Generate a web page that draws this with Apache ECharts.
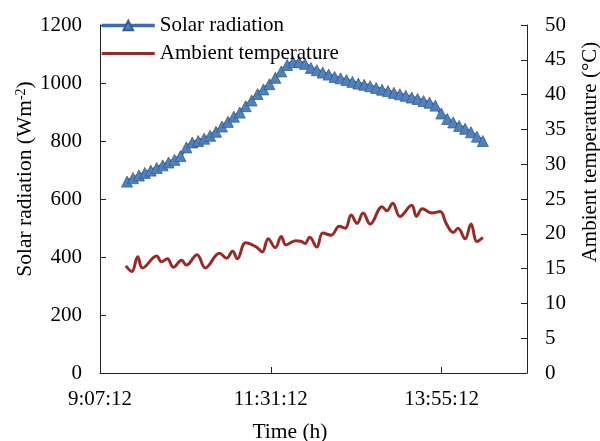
<!DOCTYPE html>
<html>
<head>
<meta charset="utf-8">
<script src="https://cdn.jsdelivr.net/npm/echarts@6/dist/echarts.min.js"></script>
<style>
html,body{margin:0;padding:0;background:#fff;}
#c{width:600px;height:441px;}
</style>
</head>
<body>
<div id="c"></div>
<script>
// ---- data ----
const solarTimes = ["9:30","9:35","9:40","9:45","9:50","9:55","10:00","10:05","10:10","10:15",
  "10:20","10:25","10:30","10:35","10:40","10:45","10:50","10:55","11:00","11:05",
  "11:10","11:15","11:20","11:25","11:30","11:35","11:40","11:45","11:50","11:55",
  "12:00","12:05","12:10","12:15","12:20","12:25","12:30","12:35","12:40","12:45",
  "12:50","12:55","13:00","13:05","13:10","13:15","13:20","13:25","13:30","13:35",
  "13:40","13:45","13:50","13:55","14:00","14:05","14:10","14:15","14:20","14:25","14:30"];
const solarValues = [660,672,681,690,698,707,716,726,735,748,
  778,795,800,808,818,832,850,866,884,898,
  920,940,962,978,996,1018,1040,1062,1072,1072,
  1066,1052,1044,1036,1029,1021,1016,1010,1004,998,
  994,989,983,977,972,966,961,956,950,945,
  938,932,922,895,876,864,852,842,830,815,800];

const tempTimes = ["9:29","9:34","9:39","9:43","9:55","9:59","10:04","10:09","10:16","10:20",
  "10:29","10:36","10:48","10:54","10:59","11:03","11:10","11:19","11:24","11:29",
  "11:35","11:40","11:44","11:52","11:57","12:00","12:04","12:10","12:15","12:22",
  "12:29","12:34","12:39","12:44","12:49","12:55","13:05","13:09","13:14","13:20",
  "13:30","13:34","13:39","13:47","13:54","13:59","14:05","14:09","14:15","14:20","14:25","14:30"];
const tempValues = [15.4,14.6,16.7,15.1,16.8,16.0,16.4,15.2,16.2,15.5,
  17.0,15.1,17.2,16.5,17.5,16.4,18.7,18.1,17.4,19.3,
  18.0,19.6,18.4,19.0,18.9,18.6,19.5,18.1,20.1,19.8,
  21.1,20.8,22.7,21.5,23.0,21.4,23.9,23.3,24.4,22.5,
  24.1,22.5,23.6,23.0,23.2,21.5,20.2,20.8,19.3,21.4,18.9,19.5];

const xTickLabels = ["9:07:12","11:31:12","13:55:12"];
const xStart = "9:07:12";

// ---- helpers ----
function toMin(s){ const p = s.split(':').map(Number); return p[0]*60 + p[1] + (p[2]||0)/60; }
const x0 = toMin(xStart);
function offs(s){ return toMin(s) - x0; }

const solarData = solarTimes.map((t,i)=>[offs(t), solarValues[i]]);
const tempData = tempTimes.map((t,i)=>[offs(t), tempValues[i]]);

const FONT = 'Liberation Serif';
const AX = '#222';

const chart = echarts.init(document.getElementById('c'));
chart.setOption({
  animation:false,
  backgroundColor:'#fff',
  textStyle:{fontFamily:FONT},
  grid:{left:100,right:73,top:25,bottom:68},
  legend:{
    orient:'vertical', left:100, top:15, itemGap:7, padding:0,
    itemWidth:53, itemHeight:12,
    textStyle:{fontFamily:FONT,fontSize:21,color:'#000'},
    data:[{name:'Solar radiation',lineStyle:{width:3.5,color:'#3A6BAE'}},
          {name:'Ambient temperature',icon:'path://M0,0H53V3.2H0Z'}]
  },
  xAxis:{
    type:'value', min:0, max:360, interval:144,
    axisLine:{show:true,lineStyle:{color:AX,width:1}},
    axisTick:{show:true,inside:true,length:6,lineStyle:{color:AX}},
    splitLine:{show:false},
    axisLabel:{fontFamily:FONT,fontSize:21,color:'#000',margin:16,showMaxLabel:false,
      formatter:function(v){ const i = Math.round(v/144); return (Math.abs(v-i*144)<1e-6 && i<xTickLabels.length) ? xTickLabels[i] : ''; }}
  },
  yAxis:[{
    type:'value', min:0, max:1200, interval:200,
    axisLine:{show:true,lineStyle:{color:AX,width:1}},
    axisTick:{show:true,inside:true,length:6,lineStyle:{color:AX}},
    splitLine:{show:false},
    axisLabel:{fontFamily:FONT,fontSize:21,color:'#000',margin:18,formatter:function(v){return String(v);}}
  },{
    type:'value', min:0, max:50, interval:5,
    axisLine:{show:true,lineStyle:{color:AX,width:1}},
    axisTick:{show:true,inside:true,length:6,lineStyle:{color:AX}},
    splitLine:{show:false},
    axisLabel:{fontFamily:FONT,fontSize:21,color:'#000',margin:18,formatter:function(v){return String(v);}}
  }],
  series:[{
    name:'Solar radiation', type:'line', yAxisIndex:0,
    data:solarData,
    symbol:'triangle', symbolSize:11,
    lineStyle:{color:'#3A6BAE',width:3.5},
    itemStyle:{color:'#4F81BD',borderColor:'#385D8A',borderWidth:0.8},
    z:3
  },{
    name:'Ambient temperature', type:'line', yAxisIndex:1,
    data:tempData,
    symbol:'none', smooth:0.4,
    lineStyle:{color:'#982B28',width:3},
    itemStyle:{color:'#982B28'},
    z:2
  }],
  graphic:[
    {type:'text', x:25, y:179, rotation:Math.PI/2,
      style:{text:'{a|Solar radiation (Wm}{s|-2}{a|)}', align:'center', verticalAlign:'middle',
        rich:{a:{fontFamily:FONT,fontSize:21.5,fill:'#000',lineHeight:22},
              s:{fontFamily:FONT,fontSize:14,fill:'#000',verticalAlign:'top',lineHeight:22,padding:[0,0,8,0]}}}},
    {type:'text', x:590, y:152, rotation:Math.PI/2,
      style:{text:'Ambient temperature (°C)', align:'center', verticalAlign:'middle',
        font:'21px "Liberation Serif"', fill:'#000'}},
    {type:'text', x:290, y:432,
      style:{text:'Time (h)', align:'center', verticalAlign:'middle',
        font:'21.5px "Liberation Serif"', fill:'#000'}}
  ]
});
</script>
</body>
</html>
